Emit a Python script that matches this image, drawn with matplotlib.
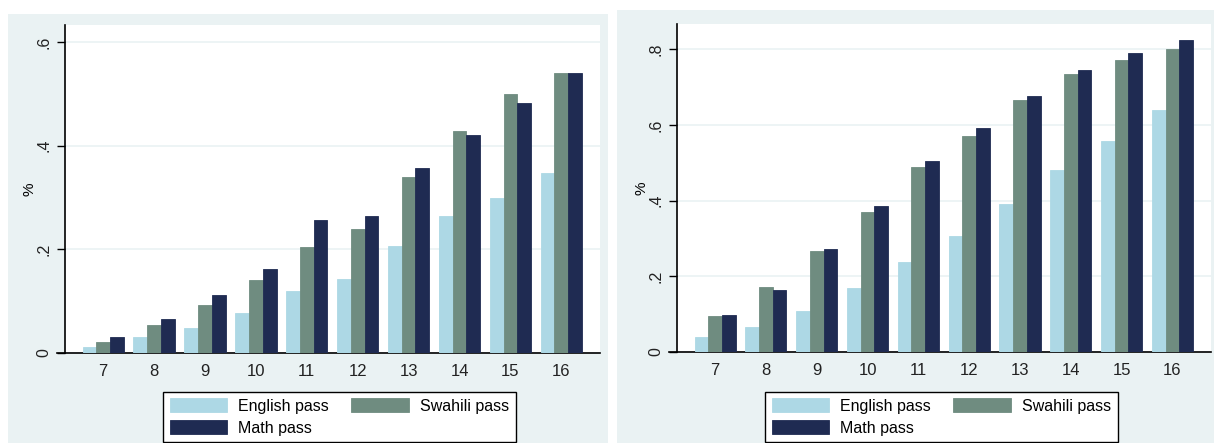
import matplotlib.pyplot as plt
import numpy as np
from matplotlib.patches import Rectangle

plt.rcParams['font.family'] = ['Liberation Sans', 'DejaVu Sans']

# grades shown on the x axis
grades = ['7', '8', '9', '10', '11', '12', '13', '14', '15', '16']
series_names = ['English pass', 'Swahili pass', 'Math pass']

# left panel
left_english = [0.012, 0.030, 0.048, 0.077, 0.119, 0.142, 0.206, 0.265, 0.300, 0.348]
left_swahili = [0.022, 0.055, 0.093, 0.141, 0.204, 0.239, 0.340, 0.429, 0.500, 0.541]
left_math = [0.030, 0.066, 0.111, 0.162, 0.257, 0.265, 0.357, 0.421, 0.482, 0.541]

# right panel
right_english = [0.039, 0.067, 0.108, 0.170, 0.237, 0.307, 0.391, 0.482, 0.557, 0.639]
right_swahili = [0.095, 0.171, 0.268, 0.371, 0.489, 0.572, 0.665, 0.735, 0.771, 0.801]
right_math = [0.098, 0.165, 0.273, 0.385, 0.504, 0.592, 0.676, 0.745, 0.790, 0.826]

left_ticks = [0, 0.2, 0.4, 0.6]
left_ticklabels = ['0', '.2', '.4', '.6']
right_ticks = [0, 0.2, 0.4, 0.6, 0.8]
right_ticklabels = ['0', '.2', '.4', '.6', '.8']

colors = ['#add8e5', '#6f8c80', '#1f2b52']
bg = '#eaf2f3'

W, H = 1214, 443
fig = plt.figure(figsize=(W / 100, H / 100), dpi=100)


def px_rect(x0, y0, x1, y1):
    # pixel box (top-left origin) -> figure fraction [l, b, w, h]
    return [x0 / W, 1 - y1 / H, (x1 - x0) / W, (y1 - y0) / H]


# panel backgrounds
for (x0, y0, x1, y1) in [(8, 14, 608, 443), (617, 10, 1214, 443)]:
    l, b, w, h = px_rect(x0, y0, x1, y1)
    fig.patches.append(Rectangle((l, b), w, h, transform=fig.transFigure,
                                 facecolor=bg, edgecolor='none', zorder=-5))


def draw_panel(box, values, ticks, ticklabels, ylim, legend_box):
    ax = fig.add_axes(px_rect(*box))
    ax.set_zorder(2)
    ax.set_facecolor('white')
    x = np.arange(len(grades))
    bw = 0.27
    bars = []
    for i, (vals, c) in enumerate(zip(values, colors)):
        b = ax.bar(x + (i - 1) * bw, vals, width=bw, color=c, edgecolor=c,
                   linewidth=0.6, label=series_names[i], zorder=3)
        bars.append(b)
    ax.set_xlim(-0.75, len(grades) - 0.24)
    ax.set_ylim(0, ylim)
    ax.set_xticks(x)
    ax.set_xticklabels(grades, fontsize=12, color='#222222')
    ax.tick_params(axis='x', length=0, pad=8)
    ax.set_yticks(ticks)
    ax.set_yticklabels(ticklabels, rotation=90, va='center', fontsize=11.5,
                       color='#222222')
    ax.tick_params(axis='y', length=6, width=1, pad=4)
    ax.grid(axis='y', color=bg, linewidth=1.2, zorder=0)
    ax.set_ylabel('%', fontsize=11, labelpad=0)
    for s in ['top', 'right']:
        ax.spines[s].set_visible(False)
    ax.spines['left'].set_linewidth(1.2)
    ax.spines['bottom'].set_linewidth(1.2)
    ax.spines['bottom'].set_bounds(-0.90, len(grades) - 0.24)

    # row-wise order like the original: English, Swahili / Math
    order = [0, 2, 1]
    lx0, ly0, lx1, ly1 = legend_box
    leg = ax.legend([bars[k] for k in order], [series_names[k] for k in order],
                    loc='upper center',
                    bbox_to_anchor=((lx0 + lx1) / 2 / W, 1 - ly0 / H),
                    bbox_transform=fig.transFigure, ncol=2, fontsize=11.5,
                    frameon=True, fancybox=False, edgecolor='black',
                    framealpha=1, handlelength=3.6, handleheight=0.95,
                    columnspacing=1.4, handletextpad=0.7, borderpad=0.4,
                    labelspacing=0.4, borderaxespad=0)
    leg.get_frame().set_linewidth(1.0)
    return ax


draw_panel((65, 25, 600, 353),
           [left_english, left_swahili, left_math],
           left_ticks, left_ticklabels, 0.633, (167, 392, 512, 440))
draw_panel((677, 24, 1211, 352),
           [right_english, right_swahili, right_math],
           right_ticks, right_ticklabels, 0.867, (770, 392, 1113, 440))

fig.savefig('out.png', dpi=100)
